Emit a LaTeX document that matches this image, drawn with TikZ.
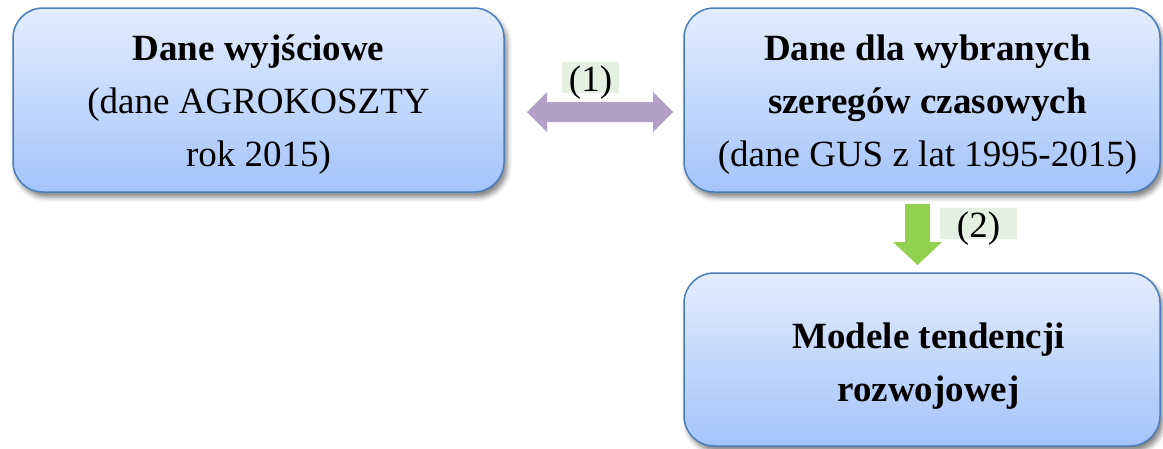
\documentclass[tikz,border=0pt]{standalone}
\usepackage{fontspec}
\setmainfont{Liberation Serif}
\usetikzlibrary{shadows.blur}
\definecolor{boxtop}{RGB}{227,236,253}
\definecolor{boxbot}{RGB}{164,196,251}
\definecolor{boxline}{RGB}{74,126,187}
\definecolor{purplearr}{RGB}{178,161,199}
\definecolor{greenarr}{RGB}{146,208,80}
\definecolor{labelbg}{RGB}{229,240,227}
\begin{document}
\begin{tikzpicture}[x=1pt,y=-1pt,
  box/.style={draw=boxline, line width=1.5pt, rounded corners=30pt,
    top color=boxtop, bottom color=boxbot, shading angle=0,
    blur shadow={shadow xshift=3pt, shadow yshift=-5pt, shadow blur radius=5pt, shadow opacity=50},
    inner sep=0pt},
  boxtext/.style={align=center, font=\fontsize{37}{53}\selectfont, inner sep=0pt},
  lab/.style={fill=labelbg, font=\fontsize{37}{40}\selectfont, inner ysep=1pt,
    text height=28pt, text depth=1pt, anchor=north}
]
\useasboundingbox (0,0) rectangle (1163,448);
% boxes
\node[box, minimum width=491pt, minimum height=184pt] (A) at (258.5,100) {};
\node[box, minimum width=476pt, minimum height=184pt] (B) at (922,100) {};
\node[box, minimum width=476pt, minimum height=173pt] (C) at (922,359.5) {};
% texts
\node[boxtext] (tA) at (258.5,105) {\textbf{Dane wyjściowe}\\(dane AGROKOSZTY\\rok 2015)};
\node[boxtext] (tB) at (927.5,105) {\textbf{Dane dla wybranych}\\\textbf{szeregów czasowych}\\(dane GUS z lat 1995-2015)};
\node[boxtext] (tC) at (928.5,366) {\textbf{Modele tendencji}\\\textbf{rozwojowej}};
% double arrow between A and B
\coordinate (dL) at (527,112);
\coordinate (dR) at (673,112);
\fill[purplearr] (dL) -- (547,92) -- (547,102) -- (653,102) -- (653,92) -- (dR)
  -- (653,132) -- (653,122) -- (547,122) -- (547,132) -- cycle;
\node[lab, inner xsep=6.5pt] (l1) at (590.5,62) {(1)};
% down arrow from B to C
\coordinate (gT) at (917.5,204);
\coordinate (gB) at (917.5,265);
\fill[greenarr] (905,204) -- (930,204) -- (930,242) -- (942,242) -- (gB) -- (893,242) -- (905,242) -- cycle;
\node[lab, inner xsep=17pt] (l2) at (978.5,208) {(2)};
\end{tikzpicture}
\end{document}
